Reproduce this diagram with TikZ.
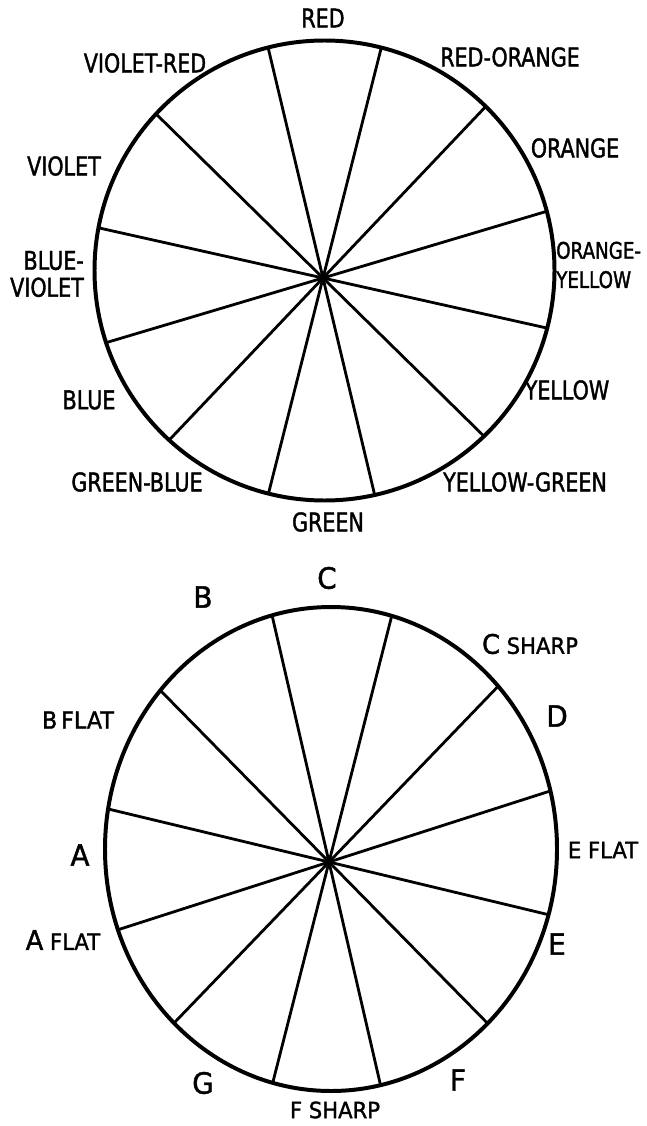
\documentclass[tikz,border=0pt]{standalone}
\usepackage{fontspec}
\newfontfamily\handfont{DejaVu Sans}[FakeStretch=0.8, FakeBold=1.5]
\newfontfamily\notefont{DejaVu Sans}[FakeStretch=0.95, FakeBold=1.5]

\begin{document}
\begin{tikzpicture}[
    x=0.03cm, y=0.03cm,
    rim/.style={line width=3.4pt},
    spoke/.style={line width=2.4pt},
    colour/.style={font=\handfont\fontsize{22}{23}\selectfont, inner sep=0pt},
    note/.style={font=\notefont\fontsize{19}{21}\selectfont, inner sep=0pt},
    bignote/.style={font=\notefont\fontsize{25}{27}\selectfont, inner sep=0pt}
  ]
  \useasboundingbox (0,0) rectangle (646,-1126);

  % Colour wheel
  \coordinate (cw) at (324.5,-270.5);
  \coordinate (cwhub) at (323,-278);
  \begin{scope}
    \clip (cw) circle (230);
    \draw[spoke] (cwhub) ++(75.8:300) -- ++(255.8:600);
    \draw[spoke] (cwhub) ++(103.4:300) -- ++(283.4:600);
    \draw[spoke] (cwhub) ++(135.5:300) -- ++(315.5:600);
    \draw[spoke] (cwhub) ++(167.4:300) -- ++(347.4:600);
    \draw[spoke] (cwhub) ++(196.6:300) -- ++(16.6:600);
    \draw[spoke] (cwhub) ++(226.5:300) -- ++(46.5:600);
  \end{scope}
  \draw[rim] (cw) circle (230);
  \fill (cwhub) circle (4);

  \node[colour] (red) at (323,-18) {RED};
  \node[colour] (redorange) at (510,-57) {RED-ORANGE};
  \node[colour] (orange) at (575,-148) {ORANGE};
  \node[colour, font=\handfont\fontsize{19.5}{25}\selectfont, anchor=west, align=left] (orangeyellow) at (556,-265) {ORANGE-\\YELLOW};
  \node[colour] (yellow) at (567,-390) {YELLOW};
  \node[colour] (yellowgreen) at (525,-482) {YELLOW-GREEN};
  \node[colour] (green) at (328,-522) {GREEN};
  \node[colour] (greenblue) at (137,-482) {GREEN-BLUE};
  \node[colour] (blue) at (89,-400) {BLUE};
  \node[colour, anchor=east, align=right] (blueviolet) at (84,-274) {BLUE-\\VIOLET};
  \node[colour] (violet) at (64,-166) {VIOLET};
  \node[colour] (violetred) at (145,-63) {VIOLET-RED};

  % Note wheel
  \coordinate (nw) at (331,-849);
  \coordinate (nwhub) at (329,-862);
  \begin{scope}
    \clip (nw) ellipse [x radius=226, y radius=242];
    \draw[spoke] (nwhub) ++(75.7:300) -- ++(255.7:600);
    \draw[spoke] (nwhub) ++(103:300) -- ++(283:600);
    \draw[spoke] (nwhub) ++(134.5:300) -- ++(314.5:600);
    \draw[spoke] (nwhub) ++(166.5:300) -- ++(346.5:600);
    \draw[spoke] (nwhub) ++(197.8:300) -- ++(17.8:600);
    \draw[spoke] (nwhub) ++(226.1:300) -- ++(46.1:600);
  \end{scope}
  \draw[rim] (nw) ellipse [x radius=226, y radius=242];
  \fill (nwhub) circle (4);

  \node[bignote] (c) at (327,-578) {C};
  \node[note] (csharp) at (530,-644) {{\fontsize{23}{25}\selectfont C} SHARP};
  \node[bignote] (d) at (557,-716) {D};
  \node[note] (eflat) at (603,-850) {E FLAT};
  \node[bignote] (e) at (557,-944) {E};
  \node[bignote] (f) at (458,-1080) {F};
  \node[note] (fsharp) at (335,-1110) {F SHARP};
  \node[bignote] (g) at (203,-1083) {G};
  \node[note] (aflat) at (63,-940) {{\fontsize{23}{25}\selectfont A} FLAT};
  \node[bignote] (a) at (80,-855) {A};
  \node[note, font=\notefont\fontsize{20}{22}\selectfont] (bflat) at (78,-720) {B\,FLAT};
  \node[bignote] (b) at (203,-597) {B};
\end{tikzpicture}
\end{document}
